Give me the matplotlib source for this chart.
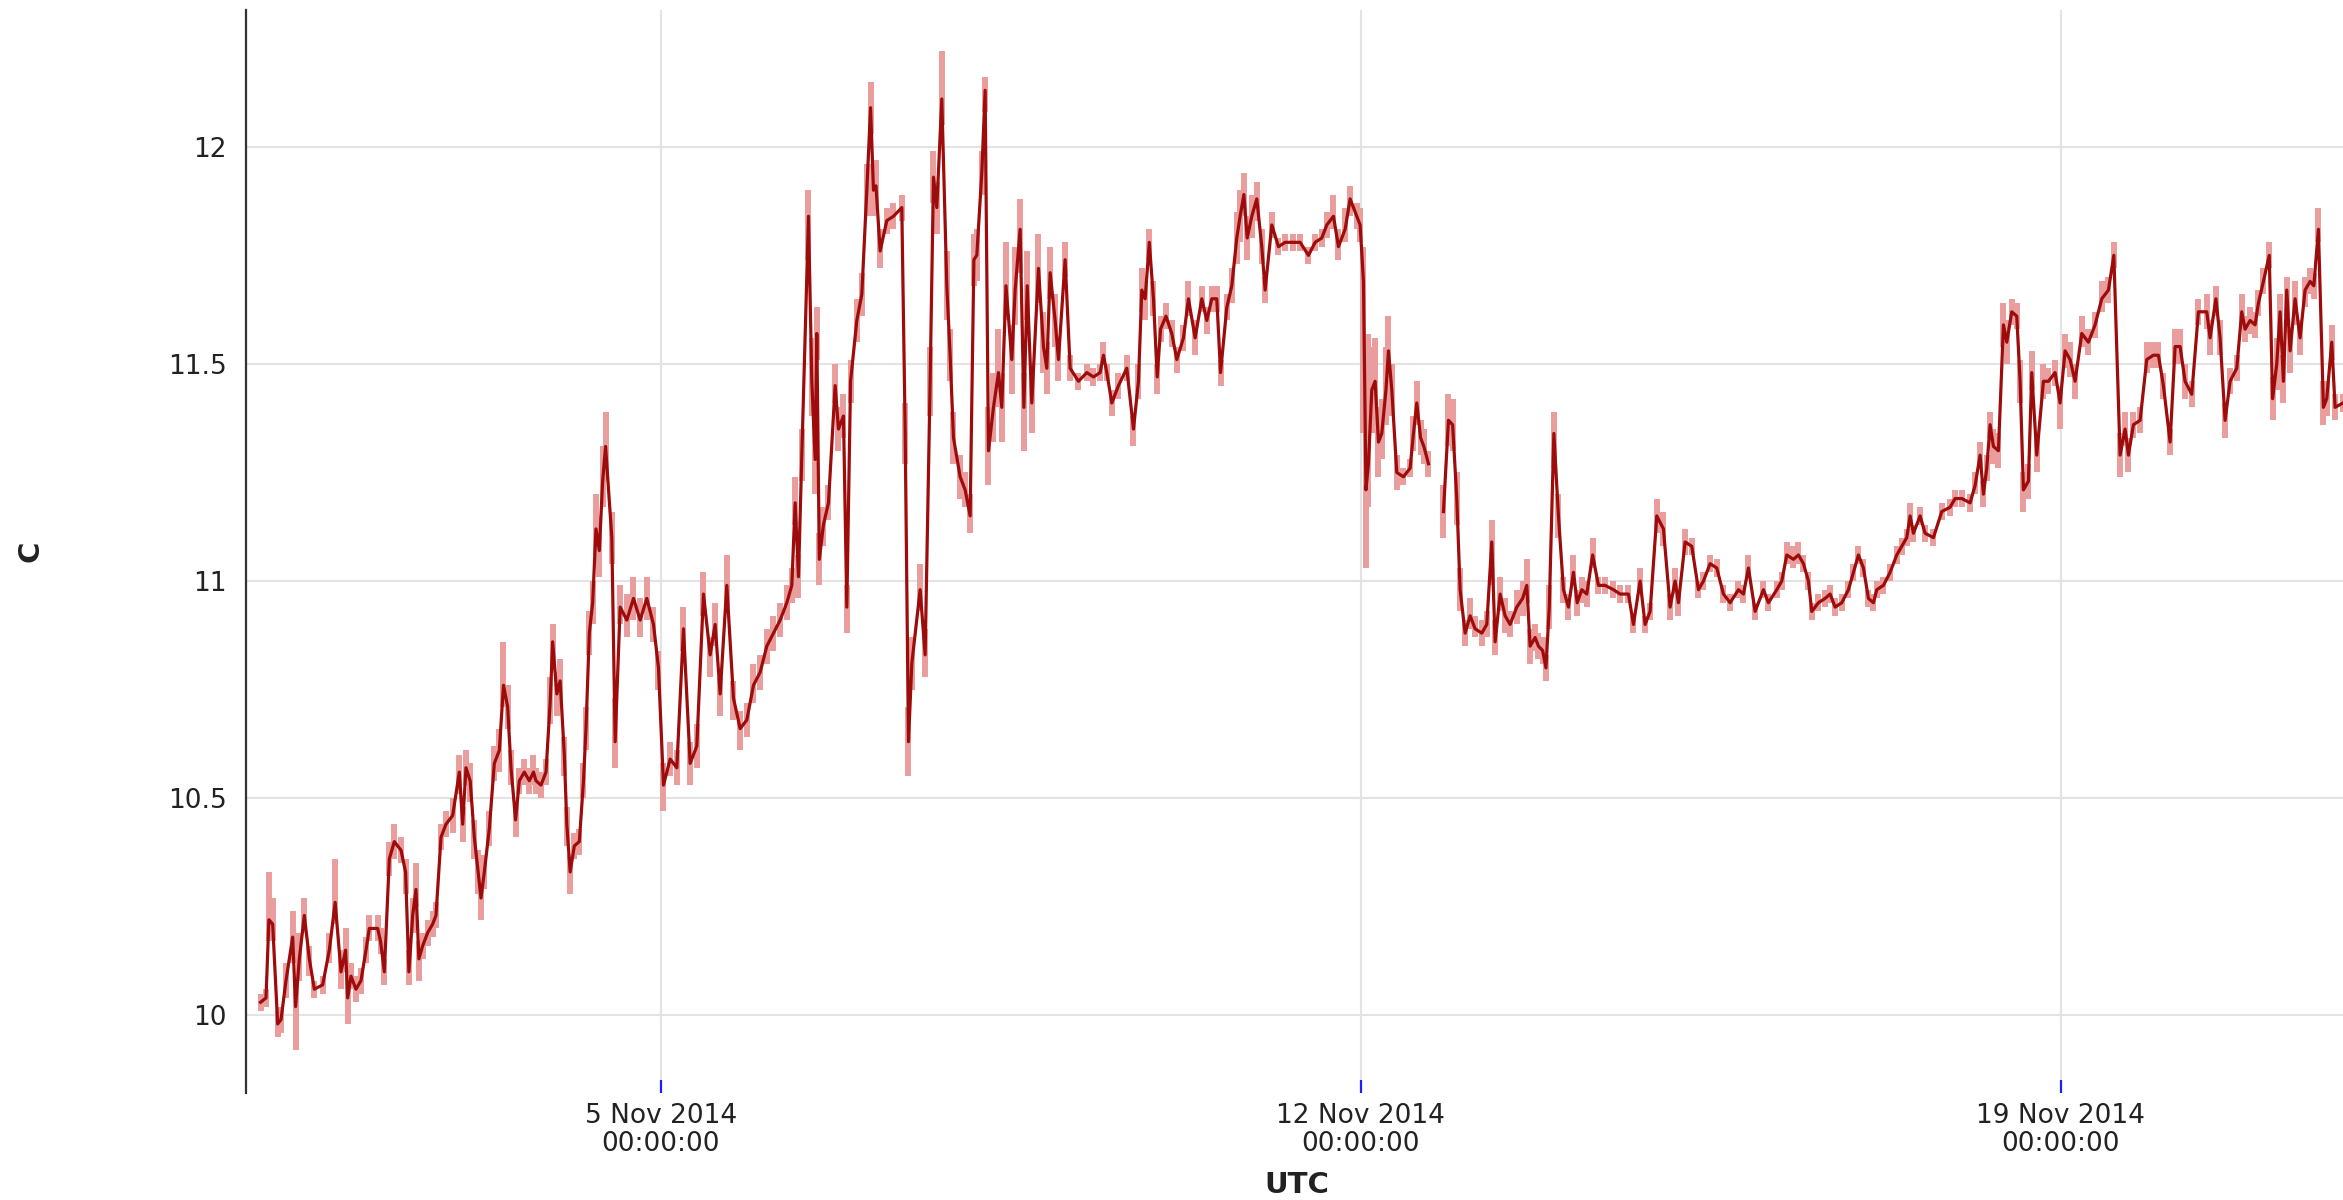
import numpy as np
import pandas as pd
import matplotlib
matplotlib.use("Agg")
import matplotlib.pyplot as plt

# ---------------- data (hours since 1 Nov 2014 00:00 UTC) ----------------
start = "2014-11-01 00:00:00"
hours = [
    0.0, 1.3, 2.0, 2.9, 4.1, 4.9, 6.1, 7.7, 8.4, 9.3,
    10.5, 11.7, 12.9, 14.9, 16.5, 17.9, 19.3, 20.4, 20.9, 21.7,
    22.9, 24.1, 25.3, 26.1, 28.1, 28.8, 29.7, 30.9, 32.1, 33.7,
    34.8, 35.6, 36.5, 37.3, 38.0, 38.9, 40.1, 41.3, 42.1, 43.3,
    44.5, 46.1, 47.7, 48.5, 49.3, 50.3, 51.3, 52.1, 52.9, 53.7,
    54.9, 56.1, 57.3, 58.3, 59.3, 60.1, 61.2, 62.1, 63.3, 64.5,
    65.5, 66.1, 67.3, 68.5, 69.5, 70.1, 71.1, 71.9, 72.9, 73.5,
    74.3, 75.3, 76.5, 77.5, 78.1, 78.9, 79.7, 80.5, 81.3, 82.1,
    82.8,
    84.3, 85.1, 86.3, 87.9, 89.5, 91.1, 92.7, 94.3, 95.5, 96.7,
    98.3, 99.9, 101.5, 103.1, 104.7, 106.3, 107.9, 109.1, 110.3, 111.9,
    113.5, 115.1, 116.7, 118.3, 119.9, 121.5, 123.1, 124.7, 126.3, 127.5,
    128.3, 129.1, 129.9, 131.5, 132.3, 133.1, 133.5, 134.1, 135.1, 136.3,
    137.9, 138.7, 139.9, 140.7, 141.6, 143.1, 144.3, 145.5, 146.4, 147.1,
    147.7, 148.7, 150.3, 151.9, 153.9, 154.7, 155.5, 156.3, 158.3, 159.5,
    160.7, 161.5, 162.3, 163.5, 164.7, 165.5, 166.3, 167.9,
    169.1, 170.3, 171.2, 171.9, 173.1, 173.9, 174.7, 175.9, 177.1, 177.9,
    178.9, 180.3, 181.1, 182.3, 183.2, 184.0, 185.1, 186.7, 187.9, 188.7,
    189.5, 190.7, 191.5, 193.1, 194.3, 196.3, 198.3, 199.9, 201.5, 202.3,
    203.1, 204.3, 205.9, 207.9, 209.5, 210.7, 211.5, 212.3, 213.3, 214.3,
    215.2, 216.0, 217.3, 218.7, 219.9, 221.5, 222.7, 224.3, 225.9, 227.1,
    228.3, 229.5, 230.4, 231.9, 233.1, 234.3, 235.1, 236.0, 236.8, 237.9,
    239.1, 240.3, 241.1, 242.7, 244.3, 245.9, 247.9,
    249.5, 251.5, 253.1, 254.7, 255.9, 257.5, 258.7, 260.3, 261.5, 263.1,
    263.9, 264.7, 265.3, 265.9, 266.7, 267.5, 268.3, 269.1, 270.1, 270.7,
    271.5, 272.7, 274.3, 275.9, 276.7, 277.5, 278.4, 279.2, 280.3, 282.0,
    283.9, 285.1, 286.1, 287.1, 287.9, 289.1, 290.3, 291.5, 293.1, 294.3,
    295.5, 296.3, 297.5, 298.7, 299.9, 301.5, 302.9, 303.9, 304.7, 305.9,
    306.7, 307.7, 308.5, 309.3, 310.4, 311.5, 312.7, 313.9, 315.1, 316.0,
    317.1, 318.3, 319.7, 321.1, 322.7, 324.7, 326.3, 328.3, 329.5, 331.1,
    332.3, 333.5,
    335.1, 336.7, 338.3, 339.5, 340.3, 341.9, 343.5, 345.1, 346.3, 347.9,
    349.5, 351.1, 352.7, 354.7, 355.9, 357.1, 358.7, 360.7, 361.9, 363.9,
    365.1, 366.3, 367.9, 369.1, 370.3, 371.5, 372.3, 373.9, 375.5, 376.7,
    377.9, 379.5, 381.1, 382.3, 383.5, 384.7, 385.9, 387.1, 387.9, 389.5,
    391.1, 392.7, 393.9, 395.1, 395.9, 396.7, 398.3, 399.5, 401.5, 403.5,
    405.5, 406.7, 408.3, 410.3, 411.5, 412.7, 413.5, 414.3,
    415.1, 415.9, 417.1, 418.3, 419.1, 420.3, 421.5, 422.3, 423.1, 424.3,
    425.1, 426.3, 427.9, 429.1, 430.7, 431.9, 433.1, 434.3, 435.5, 437.1,
    438.7, 440.3, 441.9, 443.5, 444.8, 446.3, 447.5, 448.3, 449.5, 451.1,
    452.7, 454.3, 455.5, 456.7, 458.3, 459.5, 460.7, 461.9, 463.5, 465.1,
    467.1, 467.9, 469.3, 470.3, 471.5, 472.7, 474.3, 475.5, 476.3, 477.5,
    478.7, 479.5, 480.7, 482.1, 482.9, 483.9, 484.7, 485.5, 486.3, 487.1,
    488.3, 489.5, 490.7, 491.9, 492.8, 493.9, 495.1, 495.9, 497.1, 497.9,
    499.8,
]

nan = float("nan")
temp = [
    10.03, 10.04, 10.22, 10.21, 9.98, 9.99, 10.08, 10.18, 10.02, 10.13,
    10.23, 10.13, 10.06, 10.07, 10.15, 10.26, 10.10, 10.15, 10.04, 10.09,
    10.06, 10.08, 10.15, 10.20, 10.20, 10.17, 10.10, 10.36, 10.40, 10.38,
    10.33, 10.10, 10.23, 10.29, 10.13, 10.16, 10.19, 10.21, 10.23, 10.41,
    10.44, 10.46, 10.56, 10.44, 10.57, 10.54, 10.41, 10.34, 10.27, 10.33,
    10.43, 10.58, 10.61, 10.76, 10.71, 10.57, 10.45, 10.54, 10.56, 10.54,
    10.56, 10.54, 10.53, 10.56, 10.72, 10.86, 10.74, 10.77, 10.60, 10.44,
    10.33, 10.39, 10.40, 10.54, 10.66, 10.88, 10.95, 11.12, 11.07, 11.23,
    11.31,
    11.10, 10.63, 10.94, 10.91, 10.96, 10.91, 10.96, 10.90, 10.80, 10.53,
    10.59, 10.57, 10.89, 10.58, 10.62, 10.97, 10.83, 10.90, 10.74, 10.99,
    10.73, 10.66, 10.68, 10.76, 10.79, 10.85, 10.88, 10.91, 10.95, 10.99,
    11.18, 11.01, 11.29, 11.84, 11.46, 11.28, 11.57, 11.05, 11.13, 11.18,
    11.45, 11.35, 11.38, 10.94, 11.46, 11.60, 11.66, 11.90, 12.09, 11.90,
    11.91, 11.76, 11.83, 11.84, 11.86, 11.35, 10.63, 10.81, 10.98, 10.83,
    11.46, 11.93, 11.86, 12.11, 11.68, 11.52, 11.33, 11.24,
    11.21, 11.15, 11.74, 11.75, 11.94, 12.13, 11.30, 11.40, 11.48, 11.40,
    11.68, 11.51, 11.67, 11.81, 11.40, 11.68, 11.41, 11.72, 11.54, 11.49,
    11.71, 11.60, 11.51, 11.74, 11.49, 11.46, 11.48, 11.47, 11.48, 11.52,
    11.48, 11.41, 11.45, 11.49, 11.35, 11.46, 11.67, 11.65, 11.78, 11.65,
    11.47, 11.58, 11.61, 11.57, 11.51, 11.56, 11.65, 11.56, 11.65, 11.60,
    11.65, 11.65, 11.48, 11.63, 11.68, 11.79, 11.84, 11.89, 11.79, 11.84,
    11.88, 11.77, 11.67, 11.82, 11.77, 11.78, 11.78,
    11.78, 11.75, 11.78, 11.79, 11.82, 11.84, 11.77, 11.81, 11.88, 11.84,
    11.82, 11.69, 11.21, 11.27, 11.44, 11.46, 11.32, 11.34, 11.44, 11.53,
    11.44, 11.25, 11.24, 11.26, 11.34, 11.41, 11.33, 11.31, 11.27, nan,
    11.16, 11.37, 11.36, 11.19, 10.98, 10.88, 10.92, 10.89, 10.88, 10.90,
    11.09, 10.86, 10.97, 10.92, 10.90, 10.94, 10.96, 10.99, 10.85, 10.87,
    10.85, 10.84, 10.80, 10.94, 11.34, 11.15, 10.98, 10.94, 11.02, 10.95,
    10.98, 10.97, 11.06, 10.99, 10.99, 10.98, 10.97, 10.97, 10.90, 11.00,
    10.90, 10.93,
    11.15, 11.12, 10.94, 11.00, 10.95, 11.09, 11.08, 10.98, 11.00, 11.04,
    11.03, 10.97, 10.95, 10.98, 10.97, 11.03, 10.93, 10.98, 10.95, 10.98,
    11.00, 11.06, 11.05, 11.06, 11.04, 11.00, 10.93, 10.95, 10.96, 10.97,
    10.94, 10.95, 10.98, 11.02, 11.06, 11.03, 10.96, 10.95, 10.98, 10.99,
    11.02, 11.06, 11.08, 11.10, 11.15, 11.11, 11.15, 11.11, 11.10, 11.16,
    11.17, 11.19, 11.19, 11.18, 11.22, 11.29, 11.20, 11.26,
    11.36, 11.31, 11.30, 11.59, 11.55, 11.62, 11.61, 11.46, 11.21, 11.23,
    11.48, 11.29, 11.46, 11.46, 11.48, 11.41, 11.53, 11.51, 11.46, 11.57,
    11.55, 11.59, 11.65, 11.67, 11.75, 11.29, 11.35, 11.29, 11.36, 11.37,
    11.51, 11.52, 11.52, 11.45, 11.32, 11.54, 11.54, 11.46, 11.43, 11.62,
    11.62, 11.56, 11.65, 11.56, 11.37, 11.46, 11.49, 11.62, 11.58, 11.60,
    11.59, 11.64, 11.69, 11.75, 11.42, 11.50, 11.62, 11.46, 11.67, 11.53,
    11.65, 11.56, 11.67, 11.69, 11.68, 11.81, 11.40, 11.42, 11.55, 11.40,
    11.41,
]

# extent of the min/max bar above and below each reading
bar_up = [
    .02, .02, .11, .06, .03, .03, .04, .06, .06, .06,
    .04, .03, .02, .02, .04, .10, .05, .05, .05, .03,
    .03, .03, .03, .03, .03, .03, .03, .04, .04, .03,
    .03, .05, .04, .06, .04, .03, .03, .03, .03, .03,
    .03, .04, .04, .04, .04, .04, .04, .04, .04, .04,
    .04, .04, .05, .10, .05, .04, .04, .03, .03, .03,
    .04, .03, .03, .03, .06, .04, .05, .05, .04, .04,
    .04, .03, .03, .04, .05, .05, .05, .08, .08, .08,
    .08,
    .06, .10, .05, .06, .05, .05, .05, .04, .04, .05,
    .04, .04, .05, .05, .05, .05, .04, .05, .04, .07,
    .04, .04, .04, .05, .04, .04, .04, .04, .04, .04,
    .06, .05, .06, .06, .10, .08, .06, .06, .04, .04,
    .05, .05, .05, .05, .05, .05, .05, .06, .06, .06,
    .06, .05, .03, .03, .03, .06, .08, .06, .06, .06,
    .08, .06, .06, .11, .08, .06, .06, .05,
    .04, .05, .06, .06, .05, .03, .10, .08, .10, .08,
    .10, .08, .10, .07, .08, .08, .08, .08, .08, .06,
    .06, .06, .05, .04, .03, .02, .02, .02, .02, .03,
    .02, .03, .03, .03, .03, .04, .05, .05, .03, .04,
    .03, .03, .03, .03, .03, .03, .04, .04, .03, .03,
    .03, .03, .03, .03, .04, .06, .06, .05, .05, .05,
    .04, .04, .03, .03, .02, .02, .02,
    .02, .02, .02, .02, .03, .05, .04, .05, .03, .03,
    .04, .08, .25, .30, .10, .10, .08, .08, .10, .08,
    .06, .04, .02, .02, .04, .05, .04, .04, .03, 0.0,
    .06, .06, .06, .06, .05, .03, .04, .03, .03, .03,
    .05, .05, .04, .04, .03, .04, .04, .06, .04, .03,
    .03, .03, .03, .05, .05, .05, .03, .03, .04, .03,
    .03, .03, .04, .02, .02, .02, .02, .02, .02, .03,
    .02, .02,
    .04, .04, .03, .03, .03, .03, .02, .02, .02, .02,
    .02, .02, .02, .02, .02, .03, .02, .02, .02, .02,
    .02, .03, .03, .03, .02, .02, .02, .02, .02, .02,
    .02, .02, .02, .02, .02, .02, .02, .02, .02, .02,
    .02, .02, .02, .02, .03, .02, .02, .02, .02, .02,
    .02, .02, .02, .02, .03, .03, .03, .03,
    .03, .04, .04, .05, .05, .03, .03, .05, .04, .04,
    .05, .04, .04, .03, .03, .04, .04, .04, .04, .04,
    .03, .03, .04, .03, .03, .05, .04, .04, .03, .03,
    .04, .03, .03, .03, .03, .04, .04, .04, .03, .03,
    .04, .04, .03, .04, .04, .03, .03, .04, .03, .03,
    .03, .03, .03, .03, .05, .06, .04, .06, .03, .05,
    .04, .04, .03, .03, .03, .05, .06, .04, .04, .03,
    .02,
]
bar_dn = [
    .02, .02, .05, .04, .03, .03, .04, .06, .10, .05,
    .04, .04, .02, .02, .03, .05, .04, .05, .06, .03,
    .03, .03, .03, .03, .03, .03, .03, .04, .04, .03,
    .05, .03, .04, .04, .05, .03, .03, .03, .03, .03,
    .03, .04, .05, .04, .04, .05, .05, .06, .05, .04,
    .04, .04, .05, .05, .05, .04, .04, .03, .03, .03,
    .03, .03, .03, .03, .05, .06, .05, .05, .05, .05,
    .05, .03, .03, .04, .05, .05, .05, .06, .06, .06,
    .08,
    .06, .06, .04, .04, .05, .04, .05, .04, .05, .06,
    .04, .04, .05, .05, .05, .05, .05, .05, .05, .05,
    .05, .05, .04, .04, .04, .04, .04, .04, .04, .04,
    .05, .05, .06, .10, .08, .08, .06, .06, .05, .04,
    .04, .05, .05, .06, .05, .05, .05, .06, .06, .06,
    .06, .04, .03, .03, .03, .08, .08, .06, .05, .05,
    .08, .06, .06, .06, .08, .06, .06, .05,
    .04, .04, .06, .06, .05, .05, .08, .08, .08, .08,
    .08, .08, .08, .10, .10, .08, .07, .08, .06, .06,
    .06, .06, .05, .04, .03, .02, .02, .02, .02, .02,
    .02, .03, .03, .03, .04, .04, .05, .05, .04, .04,
    .04, .03, .03, .03, .03, .03, .04, .04, .03, .03,
    .03, .03, .03, .03, .04, .06, .06, .05, .05, .05,
    .05, .04, .03, .03, .02, .02, .02,
    .02, .02, .02, .02, .03, .03, .03, .03, .04, .03,
    .04, .35, .18, .10, .10, .10, .08, .06, .08, .06,
    .06, .04, .02, .02, .04, .05, .04, .04, .03, 0.0,
    .06, .06, .06, .06, .05, .03, .03, .02, .03, .03,
    .10, .03, .04, .04, .03, .04, .04, .04, .04, .03,
    .03, .03, .03, .05, .08, .05, .03, .03, .03, .03,
    .03, .03, .03, .02, .02, .02, .02, .02, .02, .02,
    .02, .02,
    .04, .04, .03, .03, .03, .03, .02, .02, .02, .02,
    .02, .02, .02, .02, .02, .02, .02, .02, .02, .02,
    .02, .02, .02, .02, .02, .02, .02, .02, .02, .02,
    .02, .02, .02, .02, .02, .02, .02, .02, .02, .02,
    .02, .02, .02, .02, .02, .02, .02, .02, .02, .02,
    .02, .02, .02, .02, .02, .03, .03, .03,
    .03, .04, .04, .05, .05, .03, .03, .05, .05, .04,
    .04, .04, .04, .03, .03, .06, .04, .04, .04, .03,
    .03, .03, .03, .03, .03, .05, .04, .04, .03, .03,
    .03, .03, .03, .03, .03, .04, .04, .04, .03, .03,
    .04, .04, .04, .04, .04, .03, .03, .04, .03, .03,
    .03, .03, .03, .03, .05, .06, .06, .05, .06, .05,
    .06, .04, .04, .03, .03, .03, .04, .04, .04, .03,
    .02,
]

y_ticks = [10, 10.5, 11, 11.5, 12]
y_tick_labels = ["10", "10.5", "11", "11.5", "12"]
x_tick_dates = ["2014-11-05", "2014-11-12", "2014-11-19"]
x_tick_labels = ["5 Nov 2014\n00:00:00", "12 Nov 2014\n00:00:00", "19 Nov 2014\n00:00:00"]
x_label = "UTC"
y_label = "C"

assert len(hours) == len(temp) == len(bar_up) == len(bar_dn), (
    len(hours), len(temp), len(bar_up), len(bar_dn))

# ---------------- build ----------------
t0 = pd.Timestamp(start)
t = t0 + pd.to_timedelta(np.array(hours), unit="h")
v = np.array(temp, dtype=float)
lo = v - np.array(bar_dn)
hi = v + np.array(bar_up)
ok = ~np.isnan(v)

W, H = 2343, 1200
fig = plt.figure(figsize=(W / 100, H / 100), dpi=100)
ax = fig.add_axes([246 / W, 1 - 1093 / H, 1 - 246 / W, (1093 - 10) / H])

ax.vlines(t[ok], lo[ok], hi[ok], colors="#ea9d9d", linewidth=4.3, zorder=2)
ax.plot(t, v, color="#9e0b0b", linewidth=2.3, zorder=3, solid_joinstyle="round")

ax.set_xlim(t0 - pd.Timedelta(hours=3.5), t0 + pd.Timedelta(hours=499.8))
ax.set_ylim(9.821, 12.315)

ax.set_yticks(y_ticks)
ax.set_yticklabels(y_tick_labels)
ax.set_xticks(pd.to_datetime(x_tick_dates))
ax.set_xticklabels(x_tick_labels, linespacing=1.1)

for s in ["top", "right", "bottom"]:
    ax.spines[s].set_visible(False)
ax.spines["left"].set_color("#333333")
ax.spines["left"].set_linewidth(1.6)

ax.grid(True, color="#e3e3e3", linewidth=1.5)
ax.set_axisbelow(True)

ax.tick_params(axis="x", direction="in", length=9.4, width=1.6, color="#2020ff",
               pad=7, labelsize=19, labelcolor="#222222")
ax.tick_params(axis="y", length=0, pad=14, labelsize=19, labelcolor="#222222")

ax.set_xlabel(x_label, fontsize=21, fontweight="bold", color="#222222", va="center")
ax.xaxis.set_label_coords(0.501, -0.085)
ax.set_ylabel(y_label, fontsize=21, fontweight="bold", color="#222222", va="center")
ax.yaxis.set_label_coords(-0.103, 0.5)

fig.savefig("out.png", dpi=100, facecolor="white")
